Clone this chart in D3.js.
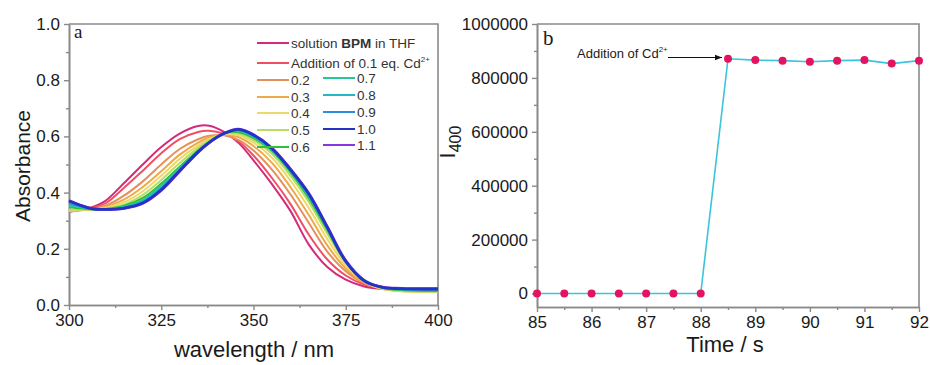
<!DOCTYPE html>
<html>
<head>
<meta charset="utf-8">
<script src="https://cdn.jsdelivr.net/npm/d3@7"></script>
<style>
  body { margin: 0; background: #fff; }
  svg { display: block; font-family: Arial, "Liberation Sans", sans-serif; }
</style>
</head>
<body>
<svg id="chart" width="930" height="365"></svg>
<script>
// panel a: absorption spectra
const wavelengths = [300, 303, 306, 310, 315, 320, 325, 330, 335, 338, 342, 346, 350, 355, 360, 365, 370, 375, 380, 385, 390, 400];
const absSolution = [0.332, 0.338, 0.347, 0.372, 0.435, 0.500, 0.562, 0.610, 0.637, 0.638, 0.616, 0.576, 0.515, 0.430, 0.335, 0.215, 0.135, 0.090, 0.066, 0.057, 0.053, 0.052];
const abs01 = [0.335, 0.339, 0.345, 0.363, 0.418, 0.478, 0.540, 0.590, 0.616, 0.620, 0.609, 0.582, 0.532, 0.452, 0.360, 0.250, 0.162, 0.105, 0.073, 0.060, 0.055, 0.053];
const abs02 = [0.333, 0.337, 0.342, 0.354, 0.390, 0.440, 0.500, 0.555, 0.590, 0.602, 0.604, 0.587, 0.550, 0.482, 0.394, 0.292, 0.190, 0.120, 0.078, 0.060, 0.054, 0.051];
const abs03 = [0.334, 0.337, 0.340, 0.350, 0.376, 0.420, 0.476, 0.535, 0.578, 0.596, 0.606, 0.597, 0.566, 0.506, 0.420, 0.320, 0.212, 0.130, 0.080, 0.058, 0.051, 0.048];
const abs04 = [0.336, 0.338, 0.340, 0.346, 0.366, 0.405, 0.460, 0.520, 0.568, 0.591, 0.608, 0.604, 0.578, 0.524, 0.443, 0.345, 0.235, 0.140, 0.083, 0.057, 0.049, 0.046];
const abs05 = [0.340, 0.340, 0.340, 0.344, 0.358, 0.392, 0.445, 0.505, 0.559, 0.586, 0.610, 0.610, 0.587, 0.538, 0.460, 0.366, 0.254, 0.150, 0.087, 0.059, 0.050, 0.047];
const abs06 = [0.348, 0.344, 0.341, 0.342, 0.353, 0.381, 0.432, 0.492, 0.551, 0.581, 0.611, 0.615, 0.594, 0.548, 0.472, 0.379, 0.266, 0.154, 0.090, 0.061, 0.053, 0.050];
const abs07 = [0.355, 0.348, 0.342, 0.341, 0.350, 0.374, 0.424, 0.486, 0.549, 0.580, 0.611, 0.619, 0.598, 0.551, 0.477, 0.386, 0.272, 0.156, 0.088, 0.062, 0.055, 0.054];
const abs08 = [0.360, 0.350, 0.342, 0.340, 0.348, 0.369, 0.418, 0.482, 0.547, 0.579, 0.611, 0.622, 0.601, 0.553, 0.479, 0.390, 0.275, 0.157, 0.088, 0.063, 0.056, 0.055];
const abs09 = [0.364, 0.352, 0.343, 0.340, 0.346, 0.366, 0.414, 0.480, 0.546, 0.578, 0.610, 0.623, 0.603, 0.554, 0.480, 0.392, 0.276, 0.157, 0.086, 0.063, 0.057, 0.056];
const abs10 = [0.370, 0.355, 0.343, 0.340, 0.345, 0.363, 0.410, 0.478, 0.545, 0.578, 0.610, 0.625, 0.605, 0.557, 0.482, 0.395, 0.276, 0.155, 0.086, 0.063, 0.058, 0.057];
const abs11 = [0.372, 0.356, 0.344, 0.340, 0.344, 0.362, 0.408, 0.476, 0.544, 0.578, 0.611, 0.626, 0.606, 0.559, 0.484, 0.397, 0.279, 0.158, 0.087, 0.064, 0.059, 0.058];

const seriesLabels = ['solution', '0.1', '0.2', '0.3', '0.4', '0.5', '0.6', '0.7', '0.8', '0.9', '1.0', '1.1'];
const seriesValues = [absSolution, abs01, abs02, abs03, abs04, abs05, abs06, abs07, abs08, abs09, abs10, abs11];
const seriesColors = ['#d42a7a', '#ef4f63', '#e2905e', '#efaa45', '#eed868', '#b6de62', '#2fbf3a', '#25c893', '#22b8c4', '#2a8fe3', '#2433c4', '#8a35e2'];

const xTicksA = [300, 325, 350, 375, 400];
const yTicksA = [0.0, 0.2, 0.4, 0.6, 0.8, 1.0];

// panel b: time trace
const times = [85, 85.5, 86, 86.5, 87, 87.5, 88, 88.5, 89, 89.5, 90, 90.5, 91, 91.5, 92];
const intensity = [0, 0, 0, 0, 0, 0, 0, 871000, 866000, 864000, 860000, 864000, 866000, 853000, 864000];
const xTicksB = [85, 86, 87, 88, 89, 90, 91, 92];
const yTicksB = [0, 200000, 400000, 600000, 800000, 1000000];

const svg = d3.select('#chart');
svg.append('rect').attr('width', 930).attr('height', 365).attr('fill', '#fff');

const axisGray = '#8a8a8a';
const textColor = '#1a1a1a';

function styleAxis(g) {
  g.select('.domain').attr('stroke', axisGray).attr('stroke-width', 1.6);
  g.selectAll('.tick line').attr('stroke', axisGray).attr('stroke-width', 1.4);
  g.selectAll('.tick text').attr('fill', textColor).style('font-size', '17px')
    .style('font-family', 'Arial, "Liberation Sans", sans-serif');
}

function frame(x0, x1, y0, y1) {
  svg.append('path')
    .attr('d', `M${x0},${y0}H${x1}V${y1}`)
    .attr('fill', 'none')
    .attr('stroke', axisGray)
    .attr('stroke-width', 1.6);
}

// ---------- panel a ----------
const xa = d3.scaleLinear().domain([300, 400]).range([69, 438]);
const ya = d3.scaleLinear().domain([0, 1]).range([305, 24]);

svg.append('g').attr('transform', 'translate(0,305)')
  .call(d3.axisBottom(xa).tickValues(d3.range(312.5, 400, 25)).tickSize(3).tickFormat('').tickSizeOuter(0))
  .call(styleAxis);
svg.append('g').attr('transform', 'translate(0,305)')
  .call(d3.axisBottom(xa).tickValues(xTicksA).tickSize(5).tickPadding(4).tickSizeOuter(0))
  .call(styleAxis);
svg.append('g').attr('transform', 'translate(69,0)')
  .call(d3.axisLeft(ya).tickValues(d3.range(0.1, 1, 0.2)).tickSize(3).tickFormat('').tickSizeOuter(0))
  .call(styleAxis);
svg.append('g').attr('transform', 'translate(69,0)')
  .call(d3.axisLeft(ya).tickValues(yTicksA).tickSize(5).tickPadding(4).tickFormat(d3.format('.1f')).tickSizeOuter(0))
  .call(styleAxis);
frame(69, 438, 24, 305);

const lineA = d3.line()
  .x((d, i) => xa(wavelengths[i]))
  .y((d) => ya(d))
  .curve(d3.curveCatmullRom.alpha(0.5));

// draw 1.1 under 1.0 so the dark blue sits on top
const drawOrder = [0, 1, 2, 3, 4, 5, 6, 7, 8, 9, 11, 10];
svg.append('g').selectAll('path')
  .data(drawOrder)
  .enter()
  .append('path')
  .attr('d', (i) => lineA(seriesValues[i]))
  .attr('fill', 'none')
  .attr('stroke', (i) => seriesColors[i])
  .attr('stroke-width', (i) => (i >= 10 ? 2.8 : 2));

// legend
const legend = svg.append('g').style('font-size', '13.5px').attr('fill', '#333');
const legendRows = [
  { i: 0, x: 257, y: 43 }, { i: 1, x: 257, y: 63 },
  { i: 2, x: 257, y: 80 }, { i: 3, x: 257, y: 97 }, { i: 4, x: 257, y: 113 },
  { i: 5, x: 257, y: 130 }, { i: 6, x: 257, y: 147 },
  { i: 7, x: 323, y: 78 }, { i: 8, x: 323, y: 95 }, { i: 9, x: 323, y: 112 },
  { i: 10, x: 323, y: 129 }, { i: 11, x: 323, y: 145 },
];
legendRows.forEach((r) => {
  legend.append('line')
    .attr('x1', r.x).attr('x2', r.x + 32)
    .attr('y1', r.y).attr('y2', r.y)
    .attr('stroke', seriesColors[r.i]).attr('stroke-width', 2);
  const t = legend.append('text').attr('x', r.x + 34).attr('y', r.y + 5);
  if (r.i === 0) {
    t.append('tspan').text('solution ');
    t.append('tspan').attr('font-weight', 'bold').text('BPM');
    t.append('tspan').text(' in THF');
  } else if (r.i === 1) {
    t.append('tspan').text('Addition of 0.1 eq. Cd');
    t.append('tspan').attr('dy', -6).style('font-size', '8px').text('2+');
  } else {
    t.text(seriesLabels[r.i]);
  }
});

svg.append('text').attr('x', 74).attr('y', 38)
  .style('font-family', '"Liberation Serif", "Times New Roman", serif')
  .style('font-size', '19px').attr('fill', textColor).text('a');

svg.append('text')
  .attr('transform', 'translate(30,166) rotate(-90)')
  .attr('text-anchor', 'middle')
  .style('font-size', '21px').attr('fill', textColor)
  .text('Absorbance');
svg.append('text')
  .attr('x', 254).attr('y', 357)
  .attr('text-anchor', 'middle')
  .style('font-size', '22px').attr('fill', textColor)
  .text('wavelength / nm');

// ---------- panel b ----------
const xb = d3.scaleLinear().domain([85, 92]).range([537, 919]);
const yb = d3.scaleLinear().domain([-50000, 1000000]).range([307, 24]);

svg.append('g').attr('transform', 'translate(0,307)')
  .call(d3.axisBottom(xb).tickValues(d3.range(85.5, 92, 1)).tickSize(3).tickFormat('').tickSizeOuter(0))
  .call(styleAxis);
svg.append('g').attr('transform', 'translate(0,307)')
  .call(d3.axisBottom(xb).tickValues(xTicksB).tickSize(5).tickPadding(4).tickFormat(d3.format('d')).tickSizeOuter(0))
  .call(styleAxis);
svg.append('g').attr('transform', 'translate(537,0)')
  .call(d3.axisLeft(yb).tickValues(d3.range(100000, 1000000, 200000)).tickSize(3).tickFormat('').tickSizeOuter(0))
  .call(styleAxis);
svg.append('g').attr('transform', 'translate(537,0)')
  .call(d3.axisLeft(yb).tickValues(yTicksB).tickSize(5).tickPadding(4).tickFormat(d3.format('d')).tickSizeOuter(0))
  .call(styleAxis);
frame(537, 919, 24, 307);

const points = times.map((t, i) => ({ t, v: intensity[i] }));
svg.append('path')
  .datum(points)
  .attr('d', d3.line().x((d) => xb(d.t)).y((d) => yb(d.v)))
  .attr('fill', 'none')
  .attr('stroke', '#3cc3dd')
  .attr('stroke-width', 1.6);
svg.append('g').selectAll('circle')
  .data(points)
  .enter()
  .append('circle')
  .attr('cx', (d) => xb(d.t))
  .attr('cy', (d) => yb(d.v))
  .attr('r', 4)
  .attr('fill', '#e3135f');

// annotation
svg.append('defs').append('marker')
  .attr('id', 'arrow')
  .attr('viewBox', '0 0 10 10')
  .attr('refX', 10).attr('refY', 5)
  .attr('markerWidth', 7).attr('markerHeight', 7)
  .attr('markerUnits', 'userSpaceOnUse')
  .attr('orient', 'auto')
  .append('path').attr('d', 'M0,1L10,5L0,9z').attr('fill', '#111');
svg.append('line')
  .attr('x1', 668).attr('x2', xb(88.5) - 6)
  .attr('y1', 57.5).attr('y2', 57.5)
  .attr('stroke', '#111').attr('stroke-width', 1)
  .attr('marker-end', 'url(#arrow)');
const ann = svg.append('text').attr('x', 577).attr('y', 58)
  .style('font-size', '13px').attr('fill', textColor);
ann.append('tspan').text('Addition of Cd');
ann.append('tspan').attr('dy', -6).style('font-size', '8px').text('2+');

svg.append('text').attr('x', 543).attr('y', 45)
  .style('font-family', '"Liberation Serif", "Times New Roman", serif')
  .style('font-size', '21px').attr('fill', textColor).text('b');

const yLabel = svg.append('text')
  .attr('transform', 'translate(455,142) rotate(-90)')
  .attr('text-anchor', 'middle')
  .style('font-size', '22px').attr('fill', textColor);
yLabel.append('tspan').text('I');
yLabel.append('tspan').attr('dy', 6).style('font-size', '16px').text('400');

svg.append('text')
  .attr('x', 725).attr('y', 352)
  .attr('text-anchor', 'middle')
  .style('font-size', '22px').attr('fill', textColor)
  .text('Time / s');
</script>
</body>
</html>
